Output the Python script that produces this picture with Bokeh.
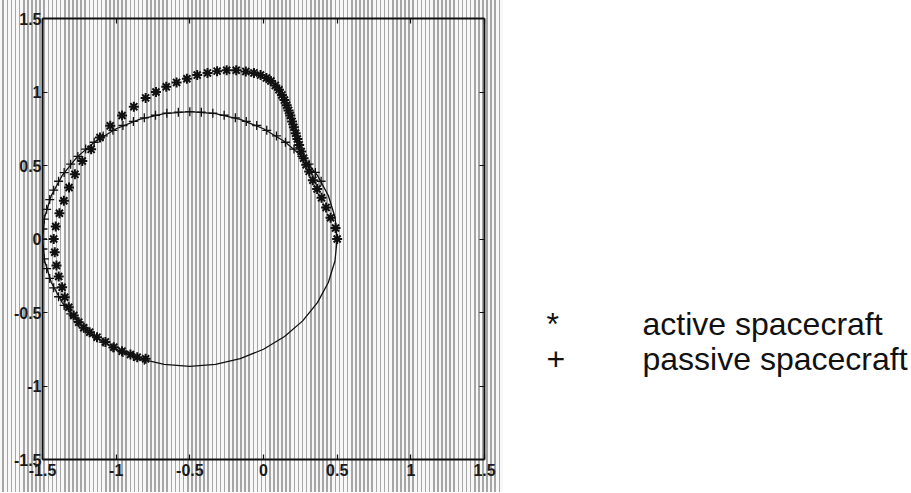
from bokeh.plotting import figure
from bokeh.models import Range1d, LinearAxis, FixedTicker, ColumnDataSource
from bokeh.layouts import row
from bokeh.core.properties import value
from bokeh.embed import file_html
from bokeh.resources import INLINE

# ---- data ----
tick_vals = [-1.5, -1.0, -0.5, 0.0, 0.5, 1.0, 1.5]
tick_labels = ["-1.5", "-1", "-0.5", "0", "0.5", "1", "1.5"]

orbit_x = [0.5, 0.485, 0.440, 0.366, 0.266, 0.143, 0.0, -0.158, -0.326, -0.5,
           -0.674, -0.842, -1.0, -1.143, -1.266, -1.366, -1.440, -1.485, -1.5,
           -1.485, -1.440, -1.366, -1.266, -1.143, -1.0, -0.842, -0.674, -0.5,
           -0.326, -0.158, 0.0, 0.143, 0.266, 0.366, 0.440, 0.485, 0.5]
orbit_y = [0.0, 0.150, 0.296, 0.433, 0.557, 0.663, 0.750, 0.814, 0.853, 0.866,
           0.853, 0.814, 0.750, 0.663, 0.557, 0.433, 0.296, 0.150, 0.0,
           -0.150, -0.296, -0.433, -0.557, -0.663, -0.750, -0.814, -0.853, -0.866,
           -0.853, -0.814, -0.750, -0.663, -0.557, -0.433, -0.296, -0.150, 0.0]

passive_x = [0.391, 0.352, 0.309, 0.260, 0.207, 0.149, 0.088, 0.022, -0.046, -0.117,
             -0.191, -0.267, -0.344, -0.422, -0.5, -0.578, -0.656, -0.733, -0.809,
             -0.883, -0.954, -1.022, -1.088, -1.149, -1.207, -1.260, -1.309, -1.353,
             -1.391, -1.424, -1.451, -1.472, -1.488, -1.497, -1.5, -1.497, -1.488,
             -1.472, -1.451, -1.424, -1.391, -1.353, -1.309, -1.260, -1.207, -1.149,
             -1.088, -1.022, -0.954, -0.883, -0.809]
passive_y = [0.393, 0.453, 0.509, 0.562, 0.612, 0.658, 0.701, 0.739, 0.772, 0.800,
             0.824, 0.842, 0.856, 0.863, 0.866, 0.863, 0.856, 0.842, 0.824,
             0.800, 0.772, 0.739, 0.701, 0.658, 0.612, 0.562, 0.509, 0.452,
             0.393, 0.332, 0.268, 0.202, 0.135, 0.068, 0.0, -0.068, -0.135,
             -0.202, -0.268, -0.332, -0.393, -0.452, -0.509, -0.562, -0.612, -0.658,
             -0.701, -0.739, -0.772, -0.800, -0.824]

active_x = [0.50, 0.489, 0.455, 0.425, 0.394, 0.364, 0.335, 0.31,
            0.29, 0.272, 0.256, 0.242, 0.23, 0.218, 0.206, 0.194, 0.182, 0.17,
            0.157, 0.142, 0.125, 0.105, 0.08, 0.05, 0.02,
            -0.02, -0.065, -0.12, -0.185, -0.25, -0.315, -0.38, -0.45, -0.52,
            -0.59, -0.66, -0.73, -0.80, -0.88, -0.96, -1.04, -1.11, -1.17,
            -1.23, -1.28, -1.32, -1.355, -1.385, -1.41, -1.424, -1.417, -1.405,
            -1.39, -1.367, -1.349, -1.322, -1.288, -1.254, -1.22, -1.18, -1.13,
            -1.073, -1.016, -0.96, -0.903, -0.857, -0.80]
active_y = [0.0, 0.075, 0.145, 0.215, 0.28, 0.34, 0.40, 0.46,
            0.505, 0.55, 0.595, 0.64, 0.68, 0.72, 0.76, 0.80, 0.84, 0.875,
            0.91, 0.945, 0.98, 1.015, 1.045, 1.075, 1.095,
            1.115, 1.13, 1.14, 1.148, 1.148, 1.142, 1.13, 1.115, 1.09,
            1.065, 1.035, 1.0, 0.96, 0.90, 0.84, 0.77, 0.69, 0.61,
            0.53, 0.44, 0.35, 0.26, 0.175, 0.085, 0.0, -0.09, -0.18,
            -0.255, -0.328, -0.396, -0.464, -0.52, -0.566, -0.604, -0.634, -0.668,
            -0.70, -0.736, -0.763, -0.786, -0.804, -0.815]

legend_symbols = ["*", "+"]
legend_texts = ["active spacecraft", "passive spacecraft"]

FONT = "Liberation Sans"
H = 492
TOP = 18
QW = 408

# ---- main plot ----
p = figure(frame_width=442, frame_height=441,
           x_range=Range1d(-1.5, 1.5), y_range=Range1d(-1.5, 1.5),
           toolbar_location=None, output_backend="svg",
           min_border_left=42, min_border_right=19,
           min_border_top=TOP, min_border_bottom=H - TOP - 441,
           x_axis_location=None, y_axis_location=None,
           styles={"background": "repeating-linear-gradient(90deg, #f8f8f8 0px, #f8f8f8 2.5px, #a6a6a6 2.5px, #a6a6a6 4.1px)"})
p.border_fill_color = None
p.background_fill_color = None
p.outline_line_color = None
p.xgrid.visible = False
p.ygrid.visible = False

overrides = {v: t for v, t in zip(tick_vals, tick_labels)}

def make_axis(show_labels):
    ax = LinearAxis(ticker=FixedTicker(ticks=tick_vals))
    ax.axis_line_color = "#111111"
    ax.axis_line_width = 1.8
    ax.major_tick_in = 5
    ax.major_tick_out = 0
    ax.major_tick_line_color = "#111111"
    ax.major_tick_line_width = 1.2
    ax.minor_tick_line_color = None
    if show_labels:
        ax.major_label_overrides = overrides
        ax.major_label_text_font = FONT
        ax.major_label_text_font_size = "16px"
        ax.major_label_text_font_style = "bold"
        ax.major_label_text_color = "#1a1a1a"
    else:
        ax.major_label_text_font_size = "0px"
        ax.major_label_text_color = None
    return ax

ax_b = make_axis(True)
ax_b.major_label_standoff = 4
ax_l = make_axis(True)
ax_l.major_label_standoff = 1
p.add_layout(ax_b, "below")
p.add_layout(ax_l, "left")
p.add_layout(make_axis(False), "above")
p.add_layout(make_axis(False), "right")

p.line(orbit_x, orbit_y, line_color="#111111", line_width=1.3)
p.scatter(passive_x, passive_y, marker="cross", size=9,
          line_color="#111111", line_width=1.3)
p.scatter(active_x, active_y, marker="asterisk", size=10,
          line_color="#111111", line_width=2.0)

# ---- legend panel (frame top aligned with the plot frame at TOP) ----
QH = H - TOP
q = figure(frame_width=QW, frame_height=QH,
           x_range=Range1d(0, QW), y_range=Range1d(0, QH),
           toolbar_location=None, output_backend="svg",
           min_border=0, min_border_left=0, min_border_right=0,
           min_border_top=TOP, min_border_bottom=0,
           x_axis_location=None, y_axis_location=None)
q.outline_line_color = None
q.xgrid.visible = False
q.ygrid.visible = False
q.background_fill_color = "white"
q.border_fill_color = "white"

# page baselines 323 and 358 -> data y = H - page_y
src = ColumnDataSource(dict(sx=[43, 43], tx=[139, 139], y=[H - 323, H - 358],
                            sym=legend_symbols, lab=legend_texts))
q.text(x="sx", y="y", text="sym", source=src, text_font=value(FONT),
       text_font_size="32px", text_baseline="alphabetic", text_align="left",
       text_color="#111111")
q.text(x="tx", y="y", text="lab", source=src, text_font=value(FONT),
       text_font_size="32px", text_baseline="alphabetic", text_align="left",
       text_color="#111111")

layout = row(p, q)
open("out.html", "w").write(file_html(layout, INLINE))
